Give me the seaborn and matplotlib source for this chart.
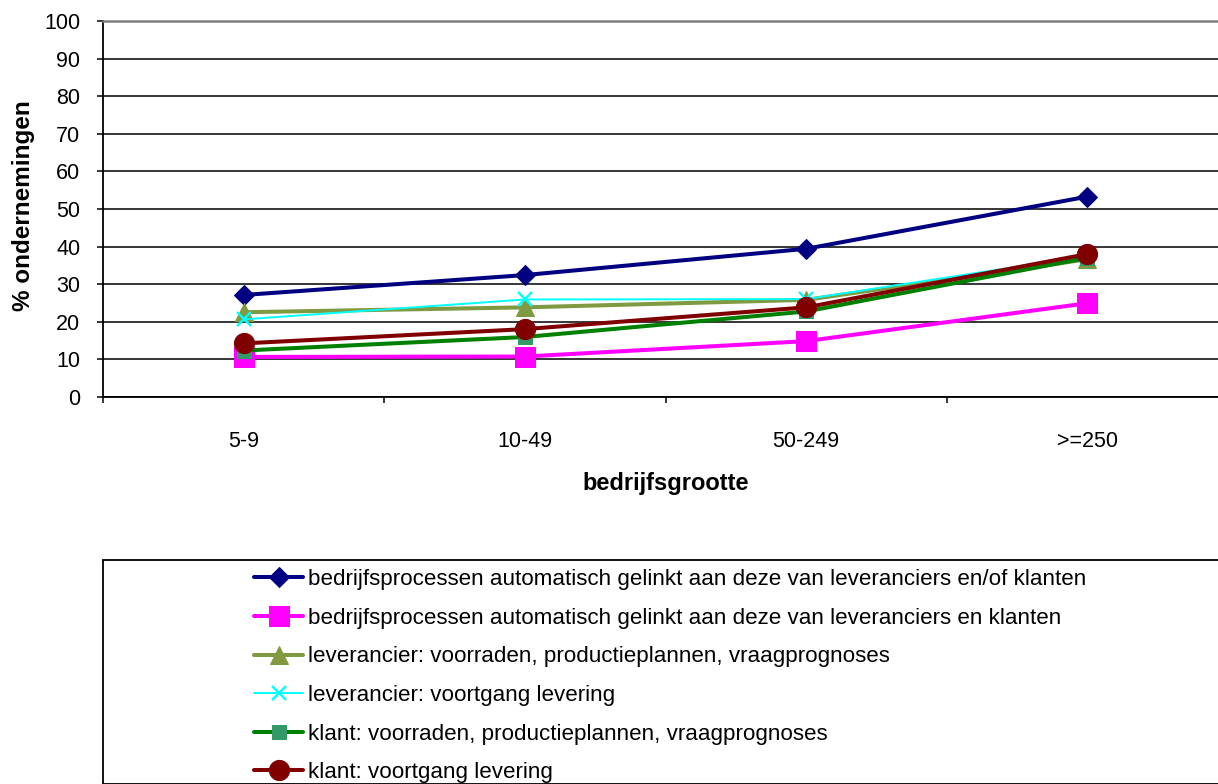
import numpy as np
import matplotlib
matplotlib.use("Agg")
import matplotlib.pyplot as plt
from matplotlib.patches import Rectangle
import seaborn as sns

# Company size classes
categories = ["5-9", "10-49", "50-249", ">=250"]

# Share of companies (%) per indicator
proc_en_of = [27.1, 32.4, 39.4, 53.3]
proc_en = [10.6, 10.7, 14.8, 24.9]
lev_voorraden = [22.5, 23.8, 25.8, 36.6]
lev_voortgang = [20.6, 25.9, 26.0, 37.5]
klant_voorraden = [12.3, 15.9, 22.7, 37.0]
klant_voortgang = [14.2, 18.0, 23.8, 38.0]

series_labels = [
    "bedrijfsprocessen automatisch gelinkt aan deze van leveranciers en/of klanten",
    "bedrijfsprocessen automatisch gelinkt aan deze van leveranciers en klanten",
    "leverancier: voorraden, productieplannen, vraagprognoses",
    "leverancier: voortgang levering",
    "klant: voorraden, productieplannen, vraagprognoses",
    "klant: voortgang levering",
]
series_values = [proc_en_of, proc_en, lev_voorraden, lev_voortgang,
                 klant_voorraden, klant_voortgang]

y_ticks = list(range(0, 101, 10))

sns.set_theme(style="white")
plt.rcParams["font.family"] = ["Liberation Sans", "DejaVu Sans"]
plt.rcParams["text.color"] = "black"
plt.rcParams["axes.labelcolor"] = "black"
plt.rcParams["xtick.color"] = "black"
plt.rcParams["ytick.color"] = "black"

W, H = 1218, 784
fig = plt.figure(figsize=(W / 100, H / 100), dpi=100)
ax_left, ax_right, ax_top, ax_bottom = 103, 1228, 21.3, 396.7
ax = fig.add_axes([ax_left / W, 1 - ax_bottom / H,
                   (ax_right - ax_left) / W, (ax_bottom - ax_top) / H])

styles = [
    dict(color="#000080", marker="D", markersize=10.5, linewidth=2.9,
         markeredgecolor="#000080", markerfacecolor="#000080"),
    dict(color="#ff00ff", marker="s", markersize=14, linewidth=2.9,
         markeredgecolor="#ff00ff", markerfacecolor="#ff00ff"),
    dict(color="#7f9a40", marker="^", markersize=13, linewidth=2.9,
         markeredgecolor="#7f9a40", markerfacecolor="#7f9a40"),
    dict(color="#00ffff", marker="x", markersize=10, linewidth=1.4,
         markeredgecolor="#00ffff", markeredgewidth=1.7),
    dict(color="#008000", marker="s", markersize=10, linewidth=2.9,
         markeredgecolor="#339966", markerfacecolor="#339966"),
    dict(color="#800000", marker="o", markersize=14.5, linewidth=2.9,
         markeredgecolor="#800000", markerfacecolor="#800000"),
]

xpos = np.arange(len(categories))
for vals, lab, st in zip(series_values, series_labels, styles):
    sns.lineplot(x=xpos, y=vals, ax=ax, label=lab, **st)

if ax.get_legend() is not None:
    ax.get_legend().remove()

# Axes limits, ticks and grid
ax.set_xlim(-0.5, len(categories) - 0.5)
ax.set_ylim(0, 100)
ax.set_xticks(np.arange(-0.5, len(categories), 1.0))
ax.set_xticklabels([])
ax.set_xticks(xpos, minor=True)
ax.set_xticklabels(categories, minor=True)
ax.tick_params(axis="x", which="major", direction="out", length=4.3,
               width=1.1, color="black", bottom=True)
ax.tick_params(axis="x", which="minor", length=0, pad=25, labelsize=15.5,
               bottom=True)
ax.set_yticks(y_ticks)
ax.tick_params(axis="y", direction="out", length=4.3, width=1.1,
               color="black", left=True, pad=12, labelsize=15.5)

ax.yaxis.grid(True, color="black", linewidth=1.1)
ax.xaxis.grid(False)
ax.set_axisbelow(True)

for side in ["left", "bottom"]:
    ax.spines[side].set_color("black")
    ax.spines[side].set_linewidth(1.3)
ax.spines["top"].set_color("#808080")
ax.spines["top"].set_linewidth(1.8)
ax.spines["right"].set_visible(False)

ax.set_xlabel("bedrijfsgrootte", fontsize=17, fontweight="bold", labelpad=14)
ax.set_ylabel("% ondernemingen", fontsize=17.5, fontweight="bold")
ax.yaxis.set_label_coords(-0.06, 0.51)

# Legend box and entries
fig.add_artist(Rectangle((103 / W, 0), (1240 - 103) / W, 1 - 560 / H,
                         transform=fig.transFigure, fill=False,
                         edgecolor="black", linewidth=1.3, clip_on=False))
handles, labels = ax.get_legend_handles_labels()
fig.legend(handles, labels, loc="upper left",
           bbox_to_anchor=(254 / W, 1 - 569 / H), frameon=False,
           fontsize=16.1, handlelength=2.2, handletextpad=0.2,
           labelspacing=0.79, borderpad=0, borderaxespad=0)

fig.savefig("out.png", dpi=100, facecolor="white")
